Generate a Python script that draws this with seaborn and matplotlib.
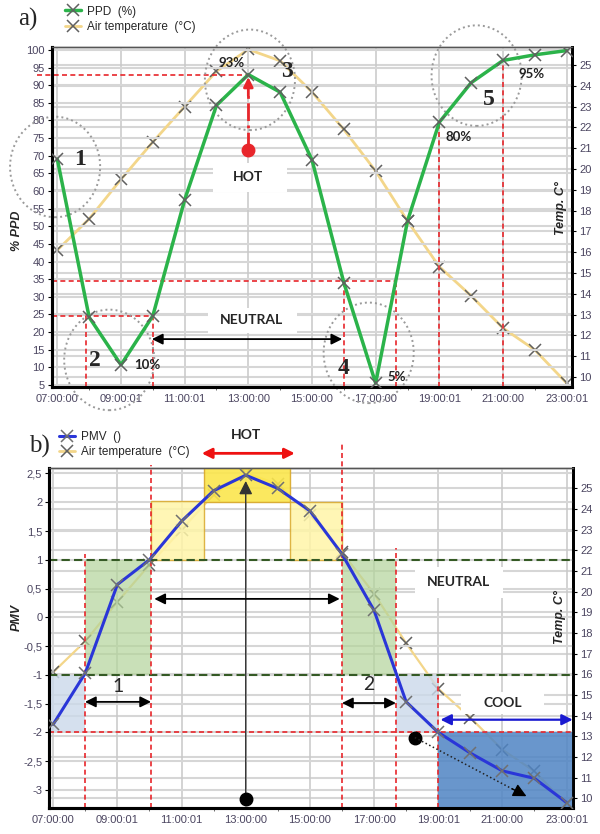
import matplotlib
matplotlib.use("Agg")
import matplotlib.pyplot as plt
import seaborn as sns
from matplotlib.patches import Ellipse, Rectangle
from matplotlib.lines import Line2D

# data (hourly values, 07:00 .. 23:00)
hours = list(range(7, 24))
tick_hours = [7, 9, 11, 13, 15, 17, 19, 21, 23]
tick_labels = ["07:00:00", "09:00:01", "11:00:01", "13:00:00", "15:00:00",
               "17:00:00", "19:00:01", "21:00:00", "23:00:01"]

ppd = [69, 24.2, 10.7, 24.6, 57.5, 84.3, 93, 88, 68.8, 34, 5.5,
       51.5, 79.5, 90.7, 97, 98.6, 99.8]
air_temp = [16.1, 17.6, 19.5, 21.3, 23.0, 24.7, 25.75, 25.2, 23.7, 21.9,
            19.9, 17.5, 15.3, 13.9, 12.35, 11.3, 9.7]
pmv = [-1.86, -0.97, 0.57, 1.0, 1.67, 2.2, 2.47, 2.24, 1.85, 1.1, 0.12,
       -1.47, -2.0, -2.36, -2.67, -2.8, -3.22]

ppd_ticks = list(range(5, 101, 5))
temp_ticks = list(range(10, 26))
pmv_ticks = [2.5, 2, 1.5, 1, 0.5, 0, -0.5, -1, -1.5, -2, -2.5, -3]
pmv_tick_labels = ["2,5", "2", "1,5", "1", "0,5", "0", "-0,5", "-1",
                   "-1,5", "-2", "-2,5", "-3"]

green = "#2bb34a"
blue = "#2a36d8"
temp_col = "#f3d68a"
red = "#e8262b"
mark_col = "#606060"
lab_col = "#4b4560"

sns.set_theme(style="white")
plt.rcParams["font.family"] = ["Liberation Sans", "DejaVu Sans"]

fig = plt.figure(figsize=(6, 8.34), dpi=100)
ax1 = fig.add_axes([0.086, 0.5363, 0.868, 0.4077])
ax1t = ax1.twinx()
ax2 = fig.add_axes([0.082, 0.0315, 0.873, 0.407])
ax2t = ax2.twinx()


def style_pair(ax, axt, xlim, ylim, tlim):
    ax.set_zorder(axt.get_zorder() + 1)
    ax.patch.set_visible(False)
    axt.patch.set_visible(True)
    axt.patch.set_facecolor("white")
    ax.set_xlim(*xlim)
    ax.set_ylim(*ylim)
    axt.set_ylim(*tlim)
    ax.set_xticks(tick_hours)
    ax.set_xticklabels(tick_labels)
    ax.set_xticks(hours, minor=True)
    axt.set_yticks(temp_ticks)
    ax.grid(axis="x", color="#c8c8c8", lw=1.1)
    ax.grid(axis="y", color="#d6d6d6", lw=1.5)
    axt.grid(axis="y", color="#d6d6d6", lw=1.5)
    ax.set_axisbelow(True)
    for a in (ax, axt):
        a.tick_params(labelsize=8, labelcolor=lab_col, length=3, width=0.8,
                      color="black", pad=2)
        a.tick_params(which="minor", length=2, width=0.6, color="#555555", bottom=True)
        a.spines["left"].set_linewidth(2.2)
        a.spines["bottom"].set_linewidth(2.2)
        a.spines["right"].set_linewidth(2)
        a.spines["top"].set_linewidth(1)
        a.spines["top"].set_color("#555555")
        for s in ("left", "bottom", "right"):
            a.spines[s].set_color("black")
    ax.set_xlabel("")
    ax.set_ylabel("")
    axt.set_ylabel("")


# ---------------- a) PPD ----------------
sns.lineplot(x=hours, y=air_temp, ax=ax1t, color=temp_col, lw=2, marker="x",
             ms=8, mec=mark_col, mew=1.1, zorder=2)
sns.lineplot(x=hours, y=ppd, ax=ax1, color=green, lw=2.5, marker="x",
             ms=8, mec=mark_col, mew=1.1, zorder=3)
style_pair(ax1, ax1t, (6.82, 23.18), (4.5, 100.9), (9.53, 25.88))
ax1.set_yticks(ppd_ticks)

ax1.set_ylabel("% PPD", fontsize=9, fontweight="bold", style="italic")
ax1.yaxis.set_label_coords(-0.055, 0.46)
ax1.text(0.978, 0.526, "Temp. C°", transform=ax1.transAxes, rotation=90,
         ha="center", va="center", fontsize=9, fontweight="bold", style="italic")

dash = (0, (3, 2))
ax1.hlines(93, 6.35, 13, color=red, lw=1.2, ls=dash, clip_on=False, zorder=2)
ax1.hlines(34.5, 6.82, 17.63, color=red, lw=1.2, ls=dash, zorder=2)
ax1.hlines(24.5, 6.82, 10, color=red, lw=1.2, ls=dash, zorder=2)
for xv, top in [(7.9, 24.5), (10, 24.5), (16, 34.5), (17.63, 34.5),
                (19, 79.5), (21, 97)]:
    ax1.vlines(xv, 4.5, top, color=red, lw=1.2, ls=dash, zorder=2)

# red dot with dash-dot arrow
ax1.plot([13, 13], [71.6, 88], color=red, lw=2, ls="-.", zorder=4)
ax1.annotate("", xy=(13, 92.3), xytext=(13, 87),
             arrowprops=dict(arrowstyle="-|>", color=red, lw=2,
                             mutation_scale=14, shrinkA=0, shrinkB=0), zorder=4)
ax1.plot(13, 71.6, "o", color=red, ms=9, zorder=4)

# dotted circles
for cx, cy in [(6.93, 66.8), (8.63, 12.1), (13.05, 91.5), (16.78, 14.1),
               (20.17, 92.7)]:
    ax1.add_patch(Ellipse((cx, cy), 2.83, 28.5, fill=False, ec="#9a9a9a",
                          lw=1.4, ls=(0, (1, 1.6)), clip_on=False, zorder=2))

# white label boxes
ax1.add_patch(Rectangle((11.89, 59.8), 2.31, 8.2, fc="white", ec="none", zorder=1.5))
ax1.text(13.0, 63.9, "HOT", ha="center", va="center", fontsize=10,
         fontweight="bold", family="Lato", zorder=5)
ax1.add_patch(Rectangle((11.74, 19.7), 2.78, 7.0, fc="white", ec="none", zorder=1.5))
ax1.text(13.1, 23.3, "NEUTRAL", ha="center", va="center", fontsize=10,
         fontweight="bold", family="Lato", zorder=5)
ax1.annotate("", xy=(15.95, 18), xytext=(9.97, 18),
             arrowprops=dict(arrowstyle="<|-|>", color="black", lw=1.3,
                             mutation_scale=16, shrinkA=0, shrinkB=0), zorder=5)

for x, y, s in [(7.72, 68.8, "1"), (8.17, 12, "2"), (14.2, 93.8, "3"),
                (16.0, 9.7, "4"), (20.57, 85.8, "5")]:
    ax1.text(x, y, s, ha="center", va="center", fontsize=17,
             fontweight="bold", family="Liberation Serif", zorder=5)
for x, y, s in [(12.47, 96.2, "93%"), (9.83, 10.7, "10%"), (17.65, 7.3, "5%"),
                (19.6, 75.4, "80%"), (21.9, 93.2, "95%")]:
    ax1.text(x, y, s, ha="center", va="center", fontsize=9.5,
             fontweight="bold", family="Lato", color="#222222", zorder=5)

h_ppd = Line2D([], [], color=green, lw=2.5, marker="x", ms=8, mec=mark_col, mew=1.1)
h_temp = Line2D([], [], color=temp_col, lw=2, marker="x", ms=8, mec=mark_col, mew=1.1)
fig.legend([h_ppd, h_temp], ["PPD  (%)", "Air temperature  (°C)"],
           loc="upper left", bbox_to_anchor=(0.1, 0.999), frameon=False,
           fontsize=8.5, handlelength=1.4, handletextpad=0.5, labelspacing=0.3,
           borderaxespad=0)
fig.text(0.047, 0.977, "a)", fontsize=18, family="Liberation Serif",
         ha="center", va="center")

# ---------------- b) PMV ----------------
sns.lineplot(x=hours, y=air_temp, ax=ax2t, color=temp_col, lw=1.6, marker="x",
             ms=8, mec=mark_col, mew=1.1, zorder=2)
sns.lineplot(x=hours, y=pmv, ax=ax2, color=blue, lw=2.2, marker="x",
             ms=8, mec="#707070", mew=1.1, zorder=3)
style_pair(ax2, ax2t, (6.875, 23.2), (-3.31, 2.59), (9.54, 25.97))
ax2.set_yticks(pmv_ticks)
ax2.set_yticklabels(pmv_tick_labels)

ax2.set_ylabel("PMV", fontsize=9, fontweight="bold", style="italic")
ax2.yaxis.set_label_coords(-0.05, 0.56)
ax2.text(0.976, 0.562, "Temp. C°", transform=ax2.transAxes, rotation=90,
         ha="center", va="center", fontsize=9, fontweight="bold", style="italic")

# shaded comfort zones
zones = [((7.99, -1), 2.06, 2, "#b3d49a", 0.7, "none"),
         ((16.0, -1), 1.68, 2, "#b3d49a", 0.7, "none"),
         ((6.875, -2), 1.115, 1, "#cbd9ea", 0.8, "none"),
         ((17.68, -2), 1.32, 1, "#cbd9ea", 0.8, "none"),
         ((19.0, -3.31), 4.2, 1.31, "#4f84c4", 0.85, "none"),
         ((10.05, 1), 1.65, 1.03, "#fff5a8", 0.85, "#d9a82a"),
         ((11.7, 2.0), 2.68, 0.6, "#fbe64d", 0.9, "#d9a82a"),
         ((14.38, 1), 1.62, 1.0, "#fff5a8", 0.85, "#d9a82a")]
for xy, w, h, fc, al, ec in zones:
    ax2.add_patch(Rectangle(xy, w, h, fc=fc, alpha=al, ec=ec, lw=1, zorder=1.2))

gdash = (0, (4, 2))
ax2.axhline(1, color="#355a25", lw=1.5, ls=gdash, zorder=2)
ax2.axhline(-1, color="#355a25", lw=1.5, ls=gdash, zorder=2)
ax2.axhline(-2, color=red, lw=1.2, ls=dash, zorder=2)
for xv, top in [(7.99, 1.1), (10.05, 2.64), (16.0, 3.05), (17.68, 1.2), (19.0, -1.0)]:
    ax2.vlines(xv, -3.31, top, color=red, lw=1.2, ls=dash, clip_on=False, zorder=2)

# hot arrow above the plot
ax2.text(13.0, 3.16, "HOT", ha="center", va="center", fontsize=10,
         fontweight="bold", family="Lato", clip_on=False)
ax2.annotate("", xy=(14.53, 2.85), xytext=(11.63, 2.85), annotation_clip=False,
             arrowprops=dict(arrowstyle="<|-|>", color="#ee1111", lw=2,
                             mutation_scale=15, shrinkA=0, shrinkB=0))
# vertical pointer at 13:00
ax2.annotate("", xy=(13, 2.37), xytext=(13, -3.15),
             arrowprops=dict(arrowstyle="-|>", color="#333333", lw=1,
                             mutation_scale=20, shrinkA=0, shrinkB=0), zorder=4)
ax2.plot(13, -3.15, "o", color="black", ms=9, zorder=4)

ax2.annotate("", xy=(15.93, 0.32), xytext=(10.15, 0.32),
             arrowprops=dict(arrowstyle="<|-|>", color="black", lw=1.3,
                             mutation_scale=16, shrinkA=0, shrinkB=0), zorder=5)
ax2.add_patch(Rectangle((18.27, 0.33), 2.75, 0.54, fc="white", ec="none", zorder=1.5))
ax2.text(19.62, 0.62, "NEUTRAL", ha="center", va="center", fontsize=10,
         fontweight="bold", family="Lato", zorder=5)

ax2.text(9.02, -1.2, "1", ha="center", va="center", fontsize=14, family="Lato", zorder=5)
ax2.annotate("", xy=(10.05, -1.47), xytext=(7.99, -1.47),
             arrowprops=dict(arrowstyle="<|-|>", color="black", lw=1.3,
                             mutation_scale=16, shrinkA=0, shrinkB=0), zorder=5)
ax2.text(16.85, -1.17, "2", ha="center", va="center", fontsize=14, family="Lato", zorder=5)
ax2.annotate("", xy=(17.68, -1.49), xytext=(16.0, -1.49),
             arrowprops=dict(arrowstyle="<|-|>", color="black", lw=1.3,
                             mutation_scale=16, shrinkA=0, shrinkB=0), zorder=5)

ax2.add_patch(Rectangle((19.7, -1.68), 2.6, 0.38, fc="white", ec="none", zorder=1.5))
ax2.text(21.0, -1.49, "COOL", ha="center", va="center", fontsize=10,
         fontweight="bold", family="Lato", zorder=5)
ax2.annotate("", xy=(23.19, -1.78), xytext=(19.07, -1.78),
             arrowprops=dict(arrowstyle="<|-|>", color="#1a1ad0", lw=1.6,
                             mutation_scale=16, shrinkA=0, shrinkB=0), zorder=5)

# dotted pointer towards the cool zone
ax2.plot(18.27, -2.09, "o", color="black", ms=9, zorder=5)
ax2.plot([18.27, 21.5], [-2.09, -3.04], color="#222222", lw=1.1, ls=":", zorder=5)
ax2.annotate("", xy=(21.75, -3.11), xytext=(21.3, -2.98),
             arrowprops=dict(arrowstyle="-|>", color="black", lw=1,
                             mutation_scale=20, shrinkA=0, shrinkB=0), zorder=5)

h_pmv = Line2D([], [], color=blue, lw=2.2, marker="x", ms=8, mec="#707070", mew=1.1)
fig.legend([h_pmv, h_temp], ["PMV  ()", "Air temperature  (°C)"],
           loc="upper left", bbox_to_anchor=(0.09, 0.489), frameon=False,
           fontsize=8.5, handlelength=1.4, handletextpad=0.5, labelspacing=0.3,
           borderaxespad=0)
fig.text(0.065, 0.465, "b)", fontsize=18, family="Liberation Serif",
         ha="center", va="center")

fig.savefig("out.png", dpi=100)
